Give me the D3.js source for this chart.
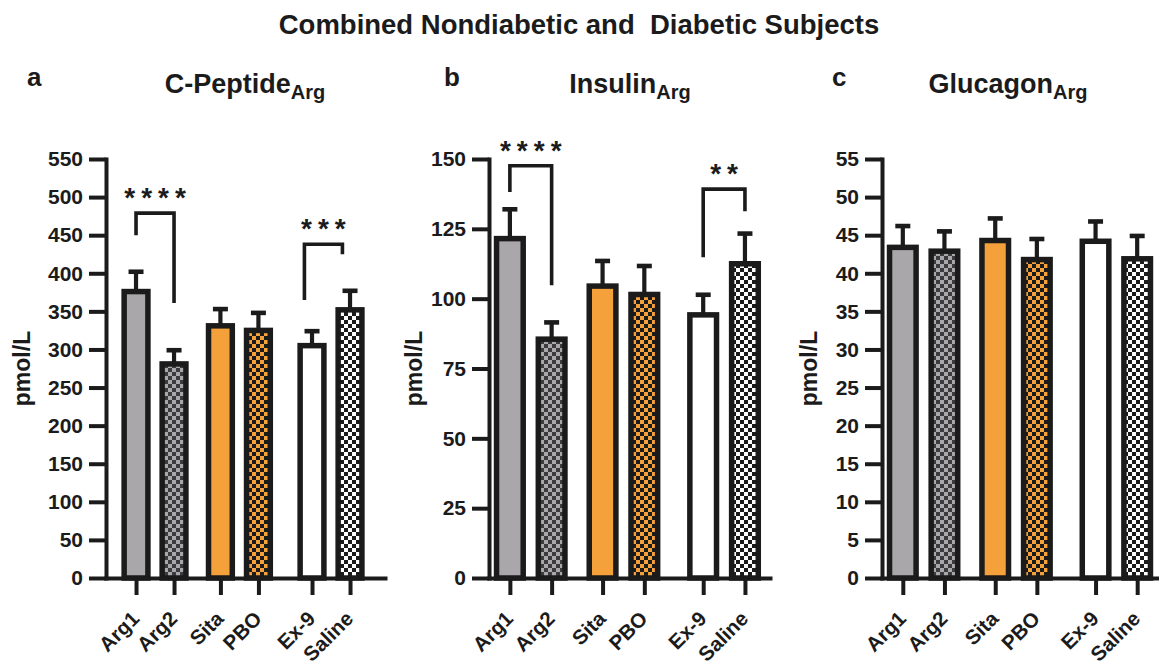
<!DOCTYPE html>
<html>
<head>
<meta charset="utf-8">
<script src="https://cdn.jsdelivr.net/npm/d3@7"></script>
<style>
  html, body { margin: 0; padding: 0; background: #fff; }
  svg { display: block; font-family: "Liberation Sans", Arial, Helvetica, sans-serif; font-weight: bold; }
</style>
</head>
<body>
<svg id="fig" width="1159" height="667"></svg>
<script>
// Treatment groups, shared by all three panels
const groups = ["Arg1", "Arg2", "Sita", "PBO", "Ex-9", "Saline"];
// Slot of each group along the category axis (pairs with wider gaps between)
const groupSlots = [0, 1, 2.22, 3.22, 4.63, 5.63];
// Fill style of each group
const groupFills = ["gray", "grayCheck", "orange", "orangeCheck", "white", "blackCheck"];

// C-peptide (pmol/L): mean and upper SEM
const cPeptideMean = [376, 281, 331, 325, 305, 352];
const cPeptideSem  = [26, 18, 22, 23, 19, 25];
const cPeptideTicks = [0, 50, 100, 150, 200, 250, 300, 350, 400, 450, 500, 550];

// Insulin (pmol/L)
const insulinMean = [121.5, 85.5, 104.5, 101.5, 94.2, 112.5];
const insulinSem  = [10.5, 6.0, 9.0, 10.2, 7.2, 10.8];
const insulinTicks = [0, 25, 50, 75, 100, 125, 150];

// Glucagon (pmol/L)
const glucagonMean = [43.4, 42.9, 44.3, 41.8, 44.2, 41.9];
const glucagonSem  = [2.8, 2.6, 2.9, 2.7, 2.6, 3.0];
const glucagonTicks = [0, 5, 10, 15, 20, 25, 30, 35, 40, 45, 50, 55];

// Significance brackets: group indices, bar level, leg ends (in data units), stars
const cPeptideSig = [
  { from: 0, to: 1, level: 479, leftEnd: 450, rightEnd: 361, stars: "****", shift: 0 },
  { from: 4, to: 5, level: 438, leftEnd: 365, rightEnd: 425, stars: "***", shift: -0.2 }
];
const insulinSig = [
  { from: 0, to: 1, level: 147.6, leftEnd: 138.2, rightEnd: 104.8, stars: "****", shift: 0 },
  { from: 4, to: 5, level: 139.2, leftEnd: 114.8, rightEnd: 131.3, stars: "**", shift: 0 }
];
const glucagonSig = [];

const ink = "#1b1b1c";
const colors = {
  gray: "#a9a7aa",
  grayDark: "#3c3b3d",
  orange: "#f4a13b",
  white: "#ffffff"
};

const svg = d3.select("#fig");

// Checkerboard fills
const defs = svg.append("defs");
function checker(id, bg, fg) {
  const p = defs.append("pattern")
    .attr("id", id).attr("patternUnits", "userSpaceOnUse")
    .attr("width", 8).attr("height", 8);
  p.append("rect").attr("width", 8).attr("height", 8).attr("fill", bg);
  p.append("rect").attr("width", 4).attr("height", 4).attr("fill", fg);
  p.append("rect").attr("x", 4).attr("y", 4).attr("width", 4).attr("height", 4).attr("fill", fg);
}
checker("grayCheck", colors.gray, colors.grayDark);
checker("orangeCheck", colors.orange, ink);
checker("blackCheck", colors.white, ink);

const fillOf = {
  gray: colors.gray,
  grayCheck: "url(#grayCheck)",
  orange: colors.orange,
  orangeCheck: "url(#orangeCheck)",
  white: colors.white,
  blackCheck: "url(#blackCheck)"
};

// Figure title
svg.append("text")
  .attr("x", 579).attr("y", 34)
  .attr("text-anchor", "middle")
  .attr("font-size", 27.5)
  .style("white-space", "pre")
  .attr("fill", ink)
  .text("Combined Nondiabetic and  Diabetic Subjects");

const panels = [
  { letter: "a", name: "C-Peptide", mean: cPeptideMean, sem: cPeptideSem, ticks: cPeptideTicks, sig: cPeptideSig,
    axisX: 106, axisEnd: 385, pad: [0.79, 0.92], letterX: 27, titleX: 245, ylabX: 30 },
  { letter: "b", name: "Insulin", mean: insulinMean, sem: insulinSem, ticks: insulinTicks, sig: insulinSig,
    axisX: 489, axisEnd: 770, pad: [0.5, 0.6], letterX: 444, titleX: 630, ylabX: 422 },
  { letter: "c", name: "Glucagon", mean: glucagonMean, sem: glucagonSem, ticks: glucagonTicks, sig: glucagonSig,
    axisX: 882, axisEnd: 1158, pad: [0.5, 0.5], letterX: 832, titleX: 1008, ylabX: 817 }
];

const plotTop = 159, plotBottom = 578;
const barOuter = 0.77;   // bar width in slot units, including border
const border = 5.5;

panels.forEach(p => {
  const g = svg.append("g");
  const last = groupSlots[groupSlots.length - 1];
  const x = d3.scaleLinear()
    .domain([-p.pad[0], last + p.pad[1]])
    .range([p.axisX, p.axisEnd]);
  const y = d3.scaleLinear()
    .domain([0, d3.max(p.ticks)])
    .range([plotBottom, plotTop]);

  // Panel letter and title with subscript
  g.append("text")
    .attr("x", p.letterX).attr("y", 86)
    .attr("font-size", 26).attr("fill", ink)
    .text(p.letter);
  const t = g.append("text")
    .attr("x", p.titleX).attr("y", 93)
    .attr("text-anchor", "middle")
    .attr("font-size", 27).attr("fill", ink);
  t.append("tspan").text(p.name);
  t.append("tspan").attr("font-size", 20).attr("dy", 6).text("Arg");

  // Y axis title
  g.append("text")
    .attr("transform", `translate(${p.ylabX},${(plotTop + plotBottom) / 2}) rotate(-90)`)
    .attr("text-anchor", "middle")
    .attr("font-size", 23).attr("fill", ink)
    .text("pmol/L");

  const unit = x(1) - x(0);
  const outerW = barOuter * unit;
  const w = outerW - border;

  // Error bars (upper SEM only)
  const eb = g.append("g").attr("stroke", ink).attr("stroke-width", 4.2);
  groups.forEach((_, i) => {
    const cx = x(groupSlots[i]);
    eb.append("line")
      .attr("x1", cx).attr("x2", cx)
      .attr("y1", y(p.mean[i])).attr("y2", y(p.mean[i] + p.sem[i]));
    eb.append("line")
      .attr("x1", cx - 7.5).attr("x2", cx + 7.5)
      .attr("y1", y(p.mean[i] + p.sem[i])).attr("y2", y(p.mean[i] + p.sem[i]))
      .attr("stroke-width", 4.6);
  });

  // Bars
  g.append("g").selectAll("rect")
    .data(groups)
    .join("rect")
    .attr("x", (d, i) => x(groupSlots[i]) - w / 2)
    .attr("y", (d, i) => y(p.mean[i]))
    .attr("width", w)
    .attr("height", (d, i) => y(0) - y(p.mean[i]))
    .attr("fill", (d, i) => fillOf[groupFills[i]])
    .attr("stroke", ink)
    .attr("stroke-width", border);

  // Y axis
  const ya = g.append("g")
    .attr("transform", `translate(${p.axisX},0)`)
    .call(d3.axisLeft(y).tickValues(p.ticks).tickSize(17).tickSizeOuter(0).tickPadding(6));
  ya.select(".domain").attr("stroke", ink).attr("stroke-width", 4).attr("stroke-linecap", "square");
  ya.selectAll(".tick line").attr("stroke", ink).attr("stroke-width", 4);
  ya.selectAll(".tick text")
    .attr("font-size", 21).attr("font-family", null).attr("fill", ink);

  // X axis with category ticks below the baseline
  const xa = g.append("g")
    .attr("transform", `translate(0,${plotBottom})`)
    .call(d3.axisBottom(x).tickValues(groupSlots).tickSize(17).tickSizeOuter(0)
      .tickFormat((d, i) => groups[i]));
  xa.select(".domain").attr("stroke", ink).attr("stroke-width", 4).attr("stroke-linecap", "square");
  xa.selectAll(".tick line").attr("stroke", ink).attr("stroke-width", 4);
  xa.selectAll(".tick text")
    .attr("font-size", 20.5).attr("font-family", null).attr("fill", ink)
    .attr("text-anchor", "end")
    .attr("dy", null).attr("y", null)
    .attr("transform", "translate(4,42) rotate(-45)");

  // Significance brackets
  p.sig.forEach(s => {
    const x1 = x(groupSlots[s.from] + s.shift);
    const x2 = x(groupSlots[s.to] + s.shift);
    g.append("path")
      .attr("d", d3.line()([[x1, y(s.leftEnd)], [x1, y(s.level)], [x2, y(s.level)], [x2, y(s.rightEnd)]]))
      .attr("fill", "none").attr("stroke", ink).attr("stroke-width", 3.6);
    g.append("text")
      .attr("x", (x1 + x2) / 2 + 3).attr("y", y(s.level) - 6)
      .attr("text-anchor", "middle")
      .attr("font-size", 28).attr("letter-spacing", 6).attr("fill", ink)
      .text(s.stars);
  });
});
</script>
</body>
</html>
